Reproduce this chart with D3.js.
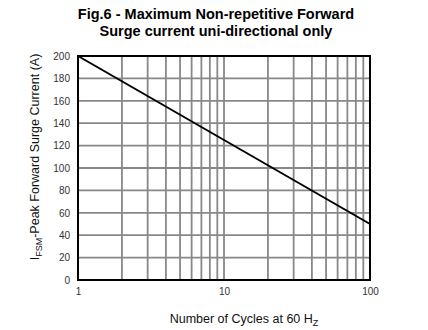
<!DOCTYPE html>
<html><head><meta charset="utf-8">
<script src="https://cdn.jsdelivr.net/npm/d3@7"></script>
<style>body{margin:0;background:#fff}svg{display:block}text{font-family:"Liberation Sans",Arial,sans-serif}</style>
</head><body>
<script>
const cycles = [1, 10, 100];
const current = [200, 125, 50];
const yTicks = [0, 20, 40, 60, 80, 100, 120, 140, 160, 180, 200];
const xTickLabels = [1, 10, 100];
const xGrid = [2,3,4,5,6,7,8,9,20,30,40,50,60,70,80,90];

const W = 428, H = 330;
const m = {left: 78, right: 58, top: 56, bottom: 50};
const svg = d3.select("body").append("svg").attr("width", W).attr("height", H);
const x = d3.scaleLog().domain([1, 100]).range([m.left, W - m.right]);
const y = d3.scaleLinear().domain([0, 200]).range([H - m.bottom, m.top]);

svg.append("text").attr("x", 216).attr("y", 19).attr("text-anchor", "middle")
  .attr("font-size", 14.5).attr("font-weight", "bold").text("Fig.6 - Maximum Non-repetitive Forward");
svg.append("text").attr("x", 216).attr("y", 36).attr("text-anchor", "middle")
  .attr("font-size", 14.5).attr("font-weight", "bold").text("Surge current uni-directional only");

const g = svg.append("g");
g.selectAll("line.h").data(yTicks.slice(1, -1)).join("line")
  .attr("x1", x(1)).attr("x2", x(100)).attr("y1", d => y(d)).attr("y2", d => y(d))
  .attr("stroke", "#888").attr("stroke-width", 1.8);
g.selectAll("line.v").data(xGrid.concat([10])).join("line")
  .attr("y1", y(0)).attr("y2", y(200)).attr("x1", d => x(d)).attr("x2", d => x(d))
  .attr("stroke", "#888").attr("stroke-width", 1.8);

const line = d3.line().x((d, i) => x(cycles[i])).y(d => y(d)).curve(d3.curveLinear);
svg.append("path").datum(current).attr("d", line).attr("fill", "none")
  .attr("stroke", "#000").attr("stroke-width", 2);

svg.append("rect").attr("x", x(1)).attr("y", y(200)).attr("width", x(100) - x(1)).attr("height", y(0) - y(200))
  .attr("fill", "none").attr("stroke", "#000").attr("stroke-width", 2);

const ya = svg.append("g").attr("transform", `translate(${x(1)},0)`)
  .call(d3.axisLeft(y).tickValues(yTicks).tickSize(0).tickPadding(8));
ya.select(".domain").remove();
ya.selectAll("text").attr("font-size", 10).attr("fill", "#333").attr("font-family", '"Liberation Sans",Arial,sans-serif');

const xa = svg.append("g").attr("transform", `translate(0,${y(0)})`)
  .call(d3.axisBottom(x).tickValues(xTickLabels).tickFormat(d3.format("d")).tickSize(0).tickPadding(8));
xa.select(".domain").remove();
xa.selectAll("text").attr("font-size", 10).attr("fill", "#333").attr("font-family", '"Liberation Sans",Arial,sans-serif');

const xt = svg.append("text").attr("x", 244).attr("y", 323).attr("text-anchor", "middle").attr("font-size", 12.5).attr("fill", "#111");
xt.append("tspan").text("Number of Cycles at 60 H");
xt.append("tspan").attr("font-size", 9).attr("dy", 3).text("Z");

const yt = svg.append("text").attr("transform", "translate(39,157) rotate(-90)").attr("text-anchor", "middle").attr("font-size", 12.5).attr("fill", "#111");
yt.append("tspan").text("I");
yt.append("tspan").attr("font-size", 9).attr("dy", 3).text("FSM");
yt.append("tspan").attr("dy", -3).text("-Peak Forward Surge Current (A)");
</script>
</body></html>
